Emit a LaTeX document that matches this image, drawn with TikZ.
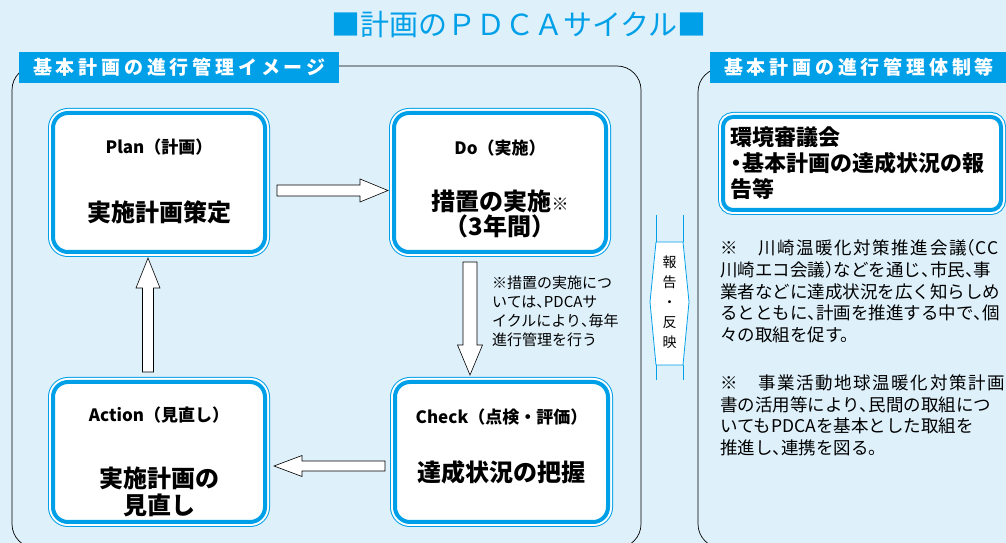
\documentclass[tikz,border=0pt]{standalone}
\usepackage{fontspec}
\setmainfont{Noto Sans CJK JP}
\newfontfamily\jpspaced{Noto Sans CJK JP}[LetterSpace=20]
\newfontfamily\jpwide{Noto Sans CJK JP}[LetterSpace=9]
\usetikzlibrary{calc,positioning}
\definecolor{pdcablue}{RGB}{0,160,233}
\definecolor{pdcabg}{RGB}{222,240,250}
\newcommand{\fsz}[2]{\fontsize{#1}{#2}\selectfont}
\newcommand{\halfl}[1]{\makebox[0.5em][l]{#1}}
\newcommand{\halfr}[1]{\makebox[0.5em][r]{#1}}

\begin{document}
\begin{tikzpicture}[x=1pt,y=1pt,
phase/.style={
% The shape:
rectangle,
rounded corners=15pt,
minimum width=212pt,
minimum height=139pt,
inner sep=0pt,outer sep=0pt,
fill=white,
draw=pdcablue,line width=4pt,
preaction={draw=pdcablue,line width=10pt},
preaction={draw=white,line width=8pt}
},
phasehead/.style={font=\bfseries\fsz{17}{17}},
phasetext/.style={font=\bfseries\fsz{24}{26},align=center},
panel/.style={draw=black,line width=0.7pt,rounded corners=24pt},
panelhead/.style={
fill=pdcablue,text=white,
font=\jpspaced\bfseries\fsz{19}{19},
inner xsep=14pt,inner ysep=0pt,minimum height=31pt,anchor=west
},
notetext/.style={font=\fsz{17.5}{21.75},align=left,anchor=north west,inner sep=0pt},
blockarrow/.style n args={3}{
% shaft half width, head half width, head length
draw=black,fill=white,line width=0.6pt,
to path={
($(\tikztostart)!#1!90:(\tikztotarget)$)
-- ($(\tikztotarget)!#3!(\tikztostart)!#1!-90:(\tikztostart)$)
-- ($(\tikztotarget)!#3!(\tikztostart)!#2!-90:(\tikztostart)$)
-- (\tikztotarget)
-- ($(\tikztotarget)!#3!(\tikztostart)!#2!90:(\tikztostart)$)
-- ($(\tikztotarget)!#3!(\tikztostart)!#1!90:(\tikztostart)$)
-- ($(\tikztostart)!#1!-90:(\tikztotarget)$)
-- cycle}
}
]
\fill[pdcabg,use as bounding box] (0,0) rectangle (1006,543);
\clip (0,0) rectangle (1006,543);

\node (title) [font=\fsz{29}{29},text=pdcablue] at (519,518) {■計画のＰＤＣＡサイクル■};

% Panels:
\draw[panel] (12,477) rectangle (641,-5);
\draw[panel] (698,475) rectangle (1040,-5);
\node (lefthead) [panelhead] at (19,475.5) {基本計画の進行管理イメージ};
\node (righthead) [panelhead] at (710,475.5) {基本計画の進行管理体制等};

% PDCA boxes:
\node (plan) [phase] at (159,360.5) {};
\node (do) [phase] at (500,360.5) {};
\node (check) [phase,minimum width=213pt,minimum height=140pt] at (501.5,91) {};
\node (action) [phase,minimum height=140pt] at (159,91) {};

\node (planhead) [phasehead] at ([yshift=-34pt]plan.north) {Plan（計画）};
\node (plantext) [phasetext] at ([yshift=-99pt]plan.north) {実施計画策定};
\node (dohead) [phasehead] at ([yshift=-35pt]do.north) {Do（実施）};
\node (dotext) [phasetext,font=\bfseries\fsz{24}{25}] at ([yshift=-100.5pt]do.north) {措置の実施{\fsz{17}{17}※}\\（3年間）};
\node (checkhead) [phasehead] at ([yshift=-35pt]check.north) {Check（点検・評価）};
\node (checktext) [phasetext] at ([yshift=-90pt]check.north) {達成状況の把握};
\node (actionhead) [phasehead] at ([yshift=-33pt]action.north) {Action（見直し）};
\node (actiontext) [phasetext,font=\bfseries\fsz{24}{27}] at ([yshift=-109.5pt]action.north) {実施計画の\\見直し};

\draw[blockarrow={5.5pt}{11.5pt}{28pt}] ([xshift=12pt,yshift=-8pt]plan.east) to ([xshift=-6pt,yshift=-8pt]do.west);
\draw[blockarrow={7pt}{12.5pt}{30pt}] ([xshift=-30pt,yshift=-10pt]do.south) to ([xshift=-31.5pt,yshift=7pt]check.north);
\draw[blockarrow={5pt}{10.5pt}{28pt}] ([xshift=-10pt,yshift=-14pt]check.west) to ([xshift=9pt,yshift=-14pt]action.east);
\draw[blockarrow={5.5pt}{12pt}{30pt}] ([xshift=-11pt,yshift=10pt]action.north) to ([xshift=-11pt,yshift=-6pt]plan.south);

\node (doremark) [font=\fsz{15}{19},align=left,anchor=north west,inner sep=0pt] at (492,267.5) {※措置の実施につ\\いては\halfl{、}PDCAサ\\イクルにより\halfl{、}毎年\\進行管理を行う};

% Report / feedback between the panels
\coordinate (reportc) at (669.5,241);
\draw[pdcablue,line width=0.8pt,fill=white] ([shift={(-13.5,60)}]reportc) -- ([shift={(13.5,60)}]reportc) -- ([shift={(19.5,0)}]reportc) -- ([shift={(13.5,-63)}]reportc) -- ([shift={(-13.5,-63)}]reportc) -- ([shift={(-19.5,0)}]reportc) -- cycle;
\draw[pdcablue,line width=0.8pt] ([shift={(-13.5,60)}]reportc) -- ++(0,27) ([shift={(13.5,60)}]reportc) -- ++(0,27) ([shift={(-13.5,-63)}]reportc) -- ++(0,-15) ([shift={(13.5,-63)}]reportc) -- ++(0,-15);
\node (report) [font=\fsz{14}{20},align=center,inner sep=0pt] at (reportc) {報\\告\\・\\反\\映};

% Right panel:
\node (council) [phase,rounded corners=10pt,minimum width=278pt,minimum height=93pt,align=left,text width=264pt,font=\bfseries\fsz{22}{26}] at (862,379.5) {環境審議会\\\makebox[0.55em][c]{・}基本計画の達成状況の報\\告等};
\node (note1) [notetext] at (720,303.5) {{\jpwide ※　川崎温暖化対策推進会議\halfr{（}CC}\\川崎エコ会議\halfl{）}などを通じ\halfl{、}市民\halfl{、}事\\業者などに達成状況を広く知らしめ\\るとともに\halfl{、}計画を推進する中で\halfl{、}個\\々の取組を促す。};
\node (note2) [notetext] at (720,168.5) {{\jpwide ※　事業活動地球温暖化対策計画}\\書の活用等により\halfl{、}民間の取組につ\\いてもPDCAを基本とした取組を\\推進し\halfl{、}連携を図る。};
\end{tikzpicture}
\end{document}
